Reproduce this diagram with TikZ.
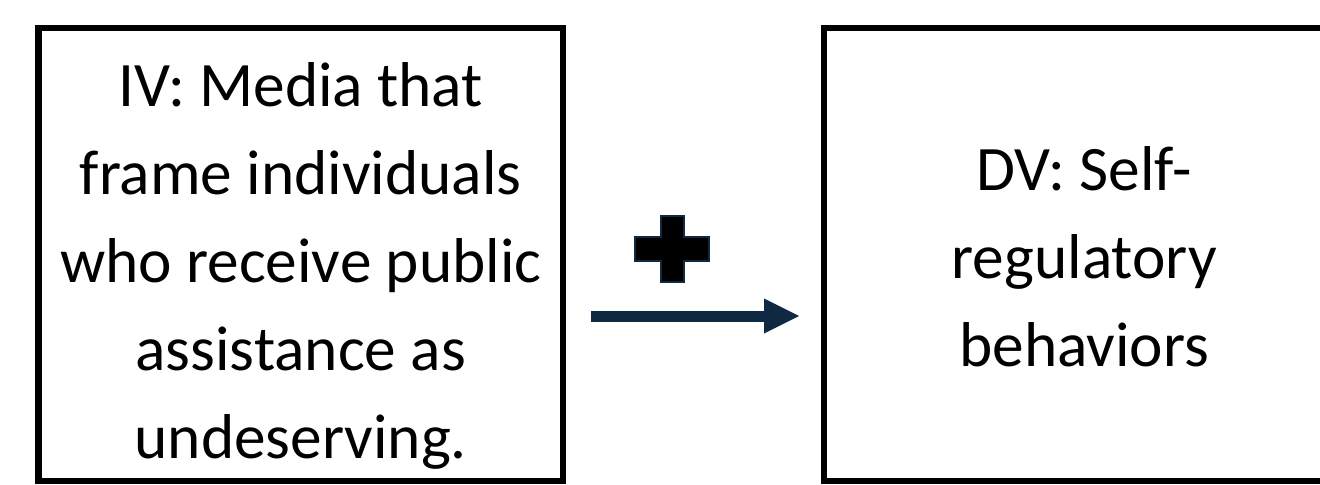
\documentclass[tikz,border=0pt]{standalone}
\usepackage{fontspec}
\setmainfont{Carlito}
\usetikzlibrary{positioning}
\usetikzlibrary{calc}
\usetikzlibrary{arrows.meta}
\definecolor{arrownavy}{RGB}{16,41,66}

\tikzset{
  varbox/.style={draw=black, line width=4.8pt, minimum width=393.4pt, minimum height=339.75pt, outer sep=0pt, inner sep=0pt},
  vartext/.style={align=center, inner sep=0pt, font=\fontsize{47.5}{66}\selectfont},
  effect/.style={draw=arrownavy, line width=8.25pt, -{Triangle[length=26.25pt,width=26.25pt,line width=0pt]}},
  plussign/.style={fill=black, draw=arrownavy, line width=1.5pt}
}

\begin{document}
\begin{tikzpicture}[x=0.75pt,y=0.75pt,yscale=-1,xscale=1]
\useasboundingbox (0,0) rectangle (1320,485);
\clip (0,0) rectangle (1320,485);

% Boxes
\node [varbox] (ivbox) at (300.75,254.5) {};
\node [varbox, right=195.75pt of ivbox] (dvbox) {};

% Text Node
\node [vartext] (ivtext) at ($(ivbox.center)+(0,11)$) {IV: Media that\\frame individuals\\who receive public\\assistance as\\undeserving.};
% Text Node
\node [vartext] (dvtext) at ($(dvbox.center)+(-2,2)$) {DV: Self-\\regulatory\\behaviors};

% Arrow
\coordinate (arrowstart) at ($(ivbox.east)+(28,61.5)$);
\coordinate (arrowend) at ($(dvbox.west)+(-25,61.5)$);
\draw [effect] (arrowstart) -- (arrowend);

% Plus sign
\coordinate (plusc) at ($(arrowstart)+(81,-67)$);
\draw [plussign] (plusc) ++(-11.5,-33) -- ++(23,0) -- ++(0,21) -- ++(25.5,0) -- ++(0,24) -- ++(-25.5,0) -- ++(0,21) -- ++(-23,0) -- ++(0,-21) -- ++(-25.5,0) -- ++(0,-24) -- ++(25.5,0) -- cycle;

\end{tikzpicture}
\end{document}
